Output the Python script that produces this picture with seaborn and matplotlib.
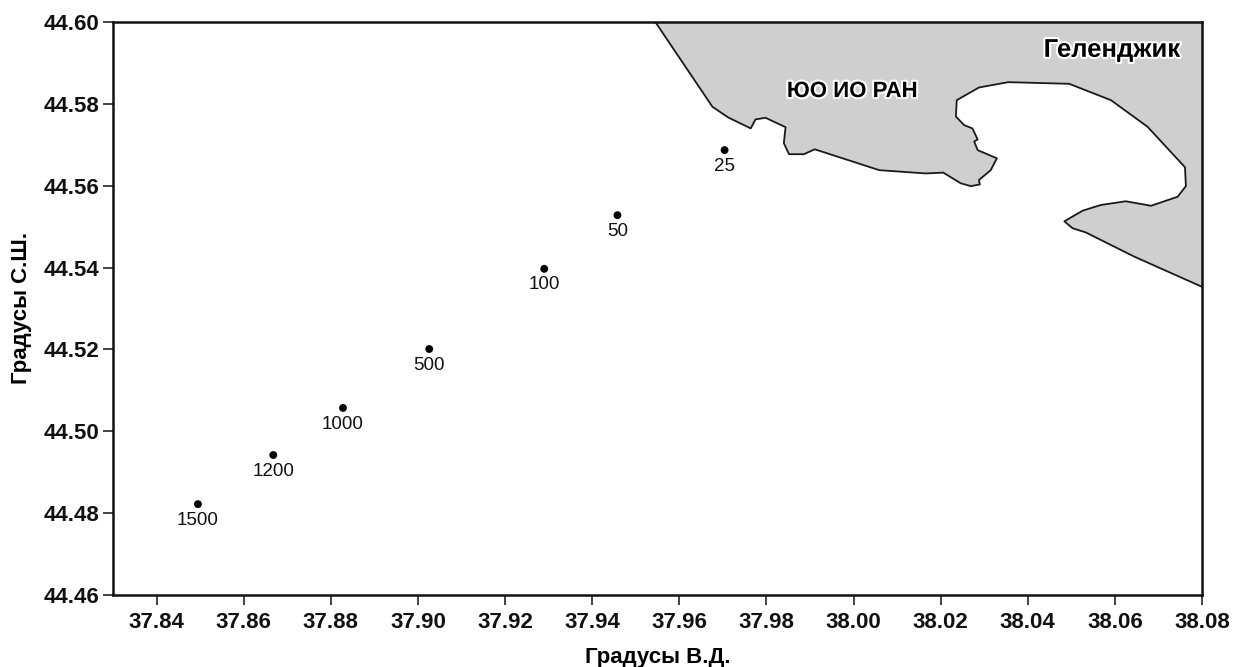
import matplotlib
matplotlib.use("Agg")
import matplotlib.pyplot as plt
import matplotlib.patheffects as pe
import seaborn as sns
import pandas as pd

station_lon = [37.8495, 37.8668, 37.8828, 37.9026, 37.9290, 37.9458, 37.9704]
station_lat = [44.4822, 44.4942, 44.5057, 44.5201, 44.5397, 44.5528, 44.5687]
station_depth = ["1500", "1200", "1000", "500", "100", "50", "25"]

coast_lon = [37.9545, 37.9676, 37.9712, 37.9764, 37.9775, 37.9798, 37.9844, 37.9840, 37.9852,
             37.9886, 37.9911, 38.0059, 38.0166, 38.0206, 38.0246, 38.0269, 38.0290, 38.0288,
             38.0315, 38.0329, 38.0285, 38.0277, 38.0285, 38.0273, 38.0254, 38.0235, 38.0237,
             38.0288, 38.0355, 38.0495, 38.0591, 38.0675, 38.0761, 38.0763, 38.0744, 38.0683,
             38.0625, 38.0568, 38.0526, 38.0484, 38.0503, 38.0533, 38.0644, 38.0800]
coast_lat = [44.6000, 44.5793, 44.5767, 44.5740, 44.5762, 44.5766, 44.5743, 44.5704, 44.5677,
             44.5677, 44.5689, 44.5638, 44.5630, 44.5632, 44.5606, 44.5599, 44.5603, 44.5614,
             44.5638, 44.5667, 44.5687, 44.5708, 44.5713, 44.5740, 44.5748, 44.5769, 44.5809,
             44.5840, 44.5853, 44.5849, 44.5809, 44.5744, 44.5645, 44.5599, 44.5573, 44.5551,
             44.5562, 44.5553, 44.5539, 44.5513, 44.5496, 44.5486, 44.5427, 44.5353]

x_ticks = [37.84, 37.86, 37.88, 37.90, 37.92, 37.94, 37.96, 37.98, 38.00, 38.02, 38.04, 38.06, 38.08]
y_ticks = [44.46, 44.48, 44.50, 44.52, 44.54, 44.56, 44.58, 44.60]

sns.set_style("ticks")
plt.rcParams['font.family'] = ['Liberation Sans', 'DejaVu Sans']

W, H = 1233, 667
fig = plt.figure(figsize=(W / 100, H / 100), dpi=100)
ax = fig.add_axes([113 / W, 1 - 595 / H, (1202 - 113) / W, (595 - 22) / H])

stations = pd.DataFrame({"lon": station_lon, "lat": station_lat})
coast = pd.DataFrame({"lon": coast_lon, "lat": coast_lat})

# land polygon closes along the top right corner of the frame
ax.fill(coast_lon + [38.08], coast_lat + [44.60], color="#cfcfcf", lw=0, zorder=1)
sns.lineplot(data=coast, x="lon", y="lat", sort=False, estimator=None, color="#1a1a1a", lw=1.3, ax=ax, zorder=2)
sns.scatterplot(data=stations, x="lon", y="lat", color="black", s=32, edgecolor="none", ax=ax, zorder=3)

for lon, lat, depth in zip(station_lon, station_lat, station_depth):
    ax.annotate(depth, (lon, lat), xytext=(0, -5.5), textcoords="offset points", ha="center", va="top",
                fontsize=13.5, color="#111111")

halo = [pe.withStroke(linewidth=3, foreground="white")]
ax.text(37.9997, 44.5830, "ЮО ИО РАН", fontsize=16, fontweight="bold", color="black", ha="center", va="center", path_effects=halo)
ax.text(38.0593, 44.5932, "Геленджик", fontsize=18.5, fontweight="bold", color="black", ha="center", va="center", path_effects=halo)

ax.set_xlim(37.83, 38.08)
ax.set_ylim(44.46, 44.60)
ax.set_xticks(x_ticks)
ax.set_yticks(y_ticks)
ax.set_xticklabels([f"{v:.2f}" for v in x_ticks], fontweight="bold")
ax.set_yticklabels([f"{v:.2f}" for v in y_ticks], fontweight="bold")
ax.tick_params(axis="both", length=7.5, width=1.1, labelsize=16, color="#111111", labelcolor="#111111")
ax.tick_params(axis="x", pad=5)
ax.tick_params(axis="y", pad=2)
ax.set_xlabel("Градусы В.Д.", fontsize=16, fontweight="bold", color="black", labelpad=10)
ax.set_ylabel("Градусы С.Ш.", fontsize=16, fontweight="bold", color="black", labelpad=9)

for side in ax.spines:
    ax.spines[side].set_visible(True)
    ax.spines[side].set_linewidth(1.8)
    ax.spines[side].set_color("#111111")
    ax.spines[side].set_zorder(5)

fig.savefig("out.png", dpi=100)
